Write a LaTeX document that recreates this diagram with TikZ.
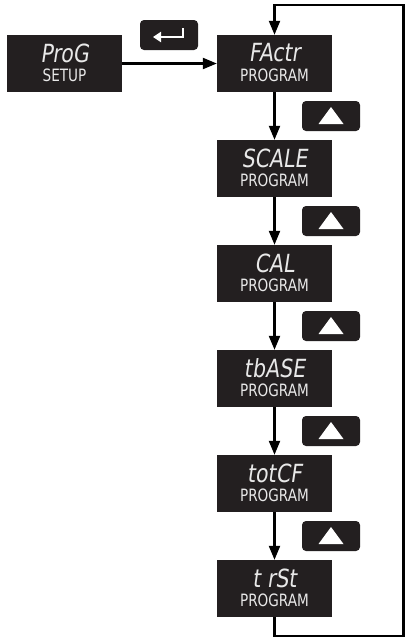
\documentclass[tikz,border=0pt]{standalone}
\usepackage{fontspec}
\newfontfamily\topfont[FakeStretch=0.82,FakeSlant=0.15]{DejaVu Sans}
\newfontfamily\botfont[FakeStretch=0.8]{DejaVu Sans}
\usetikzlibrary{arrows.meta}
\definecolor{disp}{HTML}{231F20}
\definecolor{seg}{HTML}{E8E8E8}
\tikzset{
  dispbox/.style={fill=disp, minimum width=115pt, minimum height=57pt, inner sep=0pt},
  btn/.style={fill=disp, rounded corners=4pt, minimum width=58pt, minimum height=30pt, inner sep=0pt},
  toptext/.style={text=seg, font=\topfont\fontsize{25}{25}\selectfont, inner sep=0pt},
  bottext/.style={text=seg, font=\botfont\fontsize{17}{17}\selectfont, inner sep=0pt},
  arr/.style={draw=black, line width=2.2pt, -{Triangle[length=14pt,width=11pt]}},
}
\begin{document}
\begin{tikzpicture}[x=1pt,y=-1pt]
\useasboundingbox (0,0) rectangle (405,640);
% display boxes
\node[dispbox] (p0) at (64.5,63.5) {};
\node[toptext] (p0t) at ([yshift=10.5pt]p0.center) {ProG};
\node[bottext] (p0b) at ([yshift=-12pt]p0.center) {SETUP};
\foreach \n/\t [count=\i from 0] in {f1/FActr,f2/SCALE,f3/CAL,f4/tbASE,f5/totCF,f6/t rSt}{
  \node[dispbox] (\n) at (274.5,63.5+105*\i) {};
  \node[toptext] (\n t) at ([yshift=10.5pt]\n.center) {\t};
  \node[bottext] (\n b) at ([yshift=-12pt]\n.center) {PROGRAM};
}
% enter button
\node[btn] (ent) at (169,35) {};
\coordinate (e1) at ([xshift=14pt,yshift=7pt]ent.center);
\coordinate (e2) at ([xshift=14pt,yshift=-2pt]ent.center);
\coordinate (e3) at ([xshift=-16pt,yshift=-2pt]ent.center);
\draw[white, line width=2.4pt, -{Triangle[length=8pt,width=10pt]}] (e1) -- (e2) -- (e3);
% up buttons
\foreach \i in {0,...,4}{
  \node[btn] (u\i) at (331,116+105*\i) {};
  \fill[white] ([xshift=-12.5pt,yshift=-8pt]u\i.center) -- ([xshift=12.5pt,yshift=-8pt]u\i.center) -- ([yshift=9pt]u\i.center) -- cycle;
}
% connectors
\draw[arr] (p0.east) -- (f1.west);
\draw[arr] (f1.south) -- (f2.north);
\draw[arr] (f2.south) -- (f3.north);
\draw[arr] (f3.south) -- (f4.north);
\draw[arr] (f4.south) -- (f5.north);
\draw[arr] (f5.south) -- (f6.north);
\coordinate (br) at (403.5,636);
\coordinate (tr) at (403.5,5);
\draw[arr] (f6.south) |- (br) -- (tr) -| (f1.north);
\end{tikzpicture}
\end{document}
